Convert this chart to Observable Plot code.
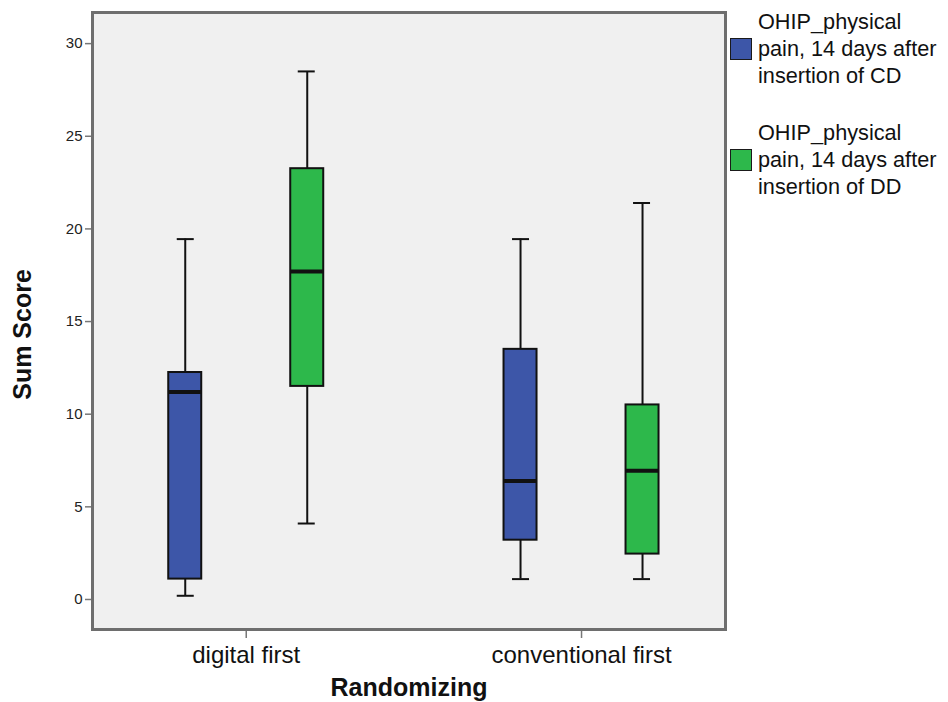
<!DOCTYPE html>
<html>
<head>
<meta charset="utf-8">
<script src="https://cdn.jsdelivr.net/npm/d3@7"></script>
<script src="https://cdn.jsdelivr.net/npm/@observablehq/plot@0.6"></script>
<style>
  html, body { margin: 0; padding: 0; background: #ffffff; }
  #wrap { position: relative; width: 948px; height: 702px; font-family: "Liberation Sans", Arial, sans-serif; }
  #legend { position: absolute; left: 730px; top: 8px; color: #111; font-size: 21.7px; line-height: 27px; }
  .item { display: flex; align-items: center; margin-bottom: 30px; }
  .sw { width: 20px; height: 20px; border: 1.5px solid #1a1a1a; margin-right: 6px; flex: none; }
</style>
</head>
<body>
<div id="wrap"><div id="legend"></div></div>
<script>
// ---- data ----
const categories = ["digital first", "conventional first"];
const seriesNames = ["OHIP_physical pain, 14 days after insertion of CD", "OHIP_physical pain, 14 days after insertion of DD"];
const seriesLegendLines = [
  ["OHIP_physical", "pain, 14 days after", "insertion of CD"],
  ["OHIP_physical", "pain, 14 days after", "insertion of DD"]
];
const seriesColors = ["#3d56a8", "#2db84b"];
// per category: [digital first, conventional first]
const cdLow    = [0.2, 1.1];
const cdQ1     = [1.1, 3.2];
const cdMedian = [11.2, 6.4];
const cdQ3     = [12.25, 13.5];
const cdHigh   = [19.45, 19.45];
const ddLow    = [4.1, 1.1];
const ddQ1     = [11.5, 2.45];
const ddMedian = [17.7, 6.95];
const ddQ3     = [23.25, 10.5];
const ddHigh   = [28.5, 21.4];
const yTicks = [0, 5, 10, 15, 20, 25, 30];

const cd = categories.map((c, i) => ({cat: c, series: seriesNames[0], low: cdLow[i], q1: cdQ1[i], med: cdMedian[i], q3: cdQ3[i], high: cdHigh[i]}));
const dd = categories.map((c, i) => ({cat: c, series: seriesNames[1], low: ddLow[i], q1: ddQ1[i], med: ddMedian[i], q3: ddQ3[i], high: ddHigh[i]}));

// styling per series (positions within the category band)
const boxInset = [[22.5, 144.5], [144.5, 22.5]];
const capInset = [[31, 152], [152, 31]];
const whiskDx = [-61, 61];

function seriesMarks(data, k) {
  const color = seriesColors[k];
  return [
    Plot.ruleX(data, {x: "cat", y1: "low", y2: "high", dx: whiskDx[k], stroke: "#111", strokeWidth: 2}),
    Plot.tickY(data, {x: "cat", y: "low", insetLeft: capInset[k][0], insetRight: capInset[k][1], stroke: "#111", strokeWidth: 2}),
    Plot.tickY(data, {x: "cat", y: "high", insetLeft: capInset[k][0], insetRight: capInset[k][1], stroke: "#111", strokeWidth: 2}),
    Plot.barY(data, {x: "cat", y1: "q1", y2: "q3", insetLeft: boxInset[k][0], insetRight: boxInset[k][1], fill: color, stroke: "#111", strokeWidth: 2}),
    Plot.tickY(data, {x: "cat", y: "med", insetLeft: boxInset[k][0], insetRight: boxInset[k][1], stroke: "#111", strokeWidth: 4})
  ];
}

const chart = Plot.plot({
  width: 948,
  height: 702,
  marginLeft: 92,
  marginRight: 223,
  marginTop: 12,
  marginBottom: 73,
  style: {fontFamily: "'Liberation Sans', Arial, sans-serif", background: "transparent", color: "#111"},
  x: {type: "band", domain: categories, round: false, paddingInner: 0.4035, paddingOuter: 0.1457, align: 0.55, label: null, axis: null},
  y: {domain: [-1.62, 31.68], label: null, axis: null},
  marks: [
    Plot.frame({fill: "#f0f0f0"}),
    Plot.axisY({ticks: yTicks, tickSize: 7, tickPadding: 3, fontSize: 15, stroke: "#777", strokeWidth: 1.5, label: null, fill: "#222"}),
    Plot.axisX({tickSize: 9, tickPadding: 7, fontSize: 24, stroke: "#777", strokeWidth: 1.5, label: null, fill: "#111"}),
    ...seriesMarks(cd, 0),
    ...seriesMarks(dd, 1),
    Plot.frame({stroke: "#6e6e6e", strokeWidth: 3}),
    Plot.text(["Sum Score"], {frameAnchor: "left", textAnchor: "middle", rotate: -90, dx: -70, dy: 13.5, fontSize: 25, fontWeight: "bold", fill: "#111"}),
    Plot.text(["Randomizing"], {frameAnchor: "bottom", textAnchor: "middle", dy: 66, fontSize: 25, fontWeight: "bold", fill: "#111"})
  ]
});
const wrap = document.getElementById("wrap");
wrap.insertBefore(chart, wrap.firstChild);

// legend
const legend = document.getElementById("legend");
seriesNames.forEach((name, k) => {
  const item = document.createElement("div");
  item.className = "item";
  const sw = document.createElement("div");
  sw.className = "sw";
  sw.style.background = seriesColors[k];
  const txt = document.createElement("div");
  txt.innerHTML = seriesLegendLines[k].join("<br>");
  item.appendChild(sw);
  item.appendChild(txt);
  legend.appendChild(item);
});
</script>
</body>
</html>
